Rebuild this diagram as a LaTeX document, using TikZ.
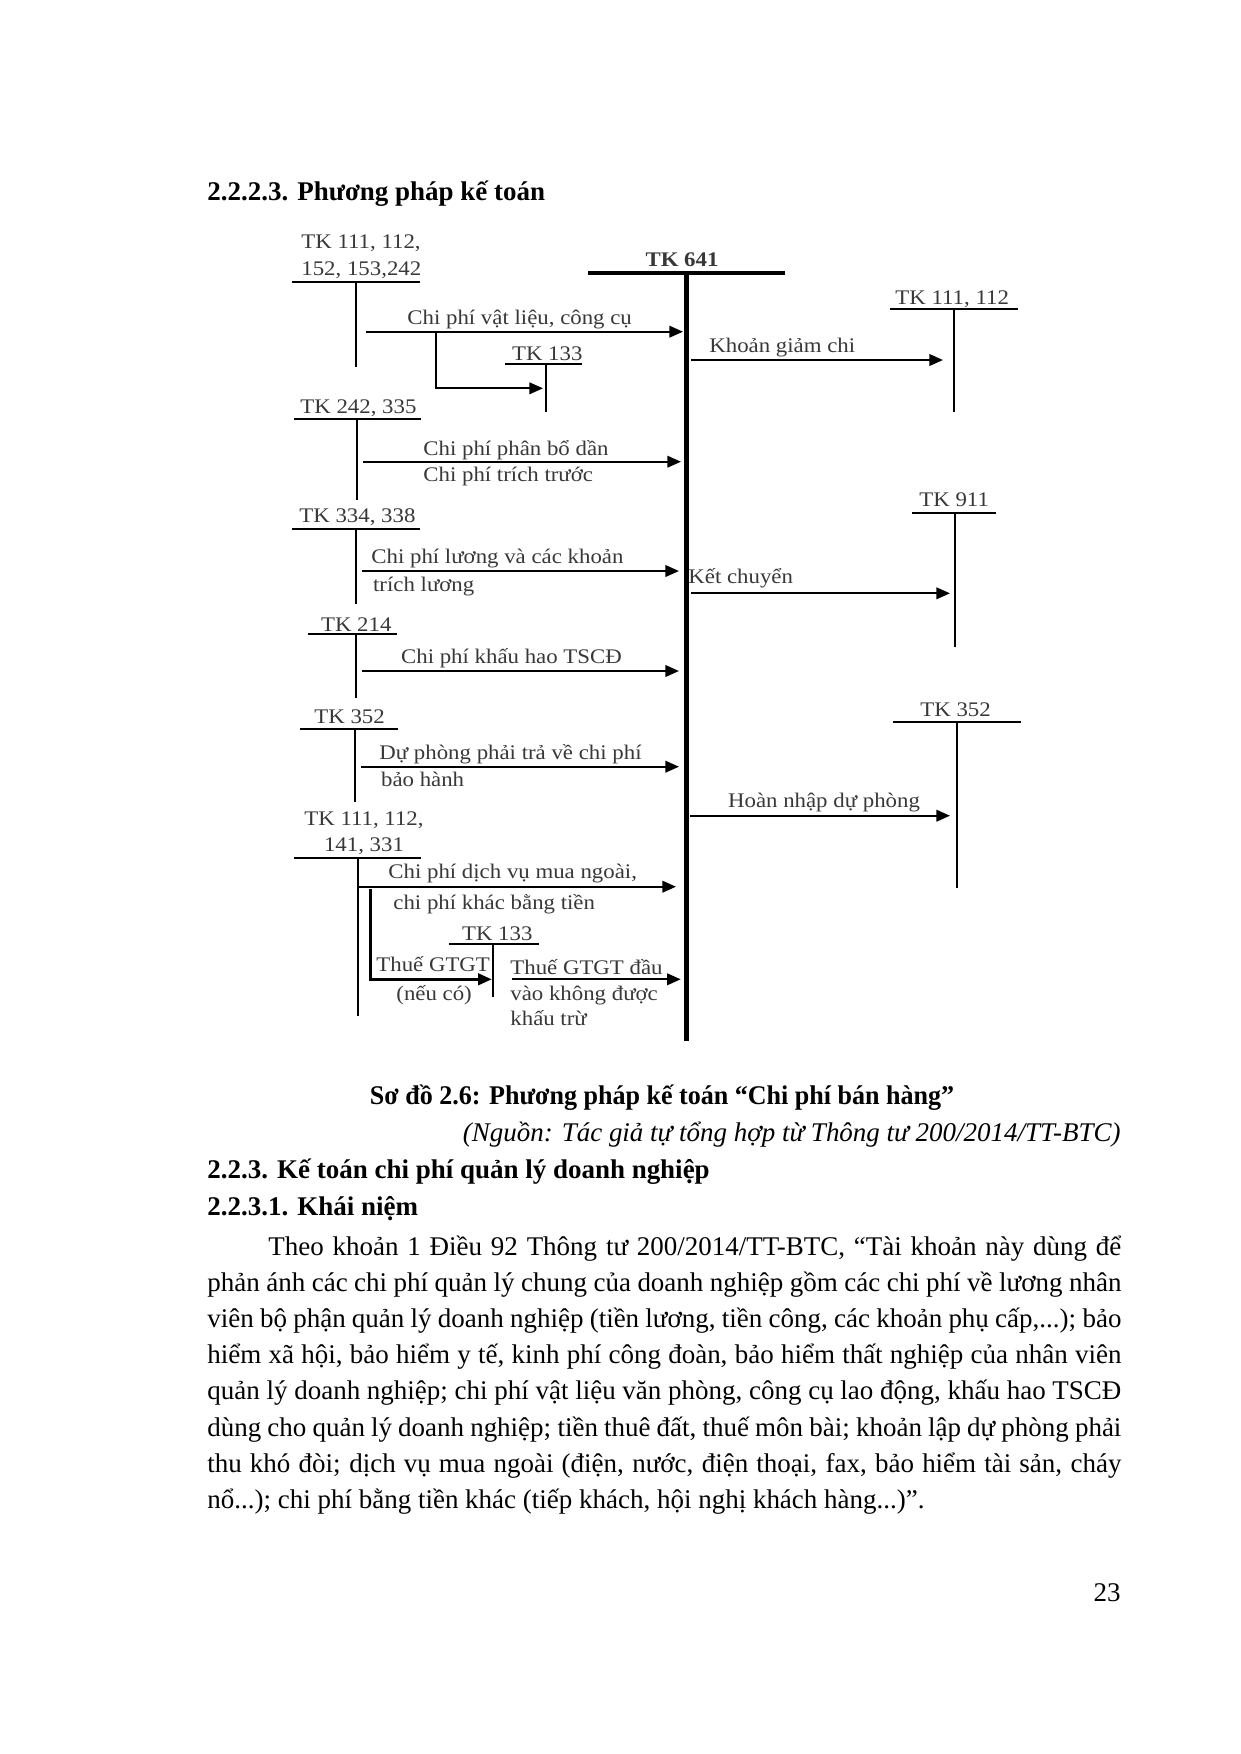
\documentclass[tikz,border=0pt]{standalone}
\usepackage{fontspec}
\usepackage{graphicx}
\setmainfont{Liberation Serif}
\newfontfamily\dfont[FakeStretch=1.1]{Liberation Serif}
\usetikzlibrary{arrows.meta}
\definecolor{dtext}{gray}{0.22}
\tikzset{
  lbl/.style={font=\dfont\fontsize{10}{12}\selectfont, text=dtext, inner sep=0pt, anchor=base west},
  tline/.style={line width=1bp},
  arr/.style={line width=1bp, -{Triangle[length=6.5bp,width=5.5bp]}},
  thickarr/.style={line width=1.3bp, -{Triangle[length=6.5bp,width=5.5bp]}},
  bodytxt/.style={font=\fontsize{13}{16}\selectfont, inner sep=0pt, anchor=base west},
  headtxt/.style={font=\fontsize{13}{16}\selectfont\bfseries, inner sep=0pt, anchor=base west},
}
\begin{document}
\begin{tikzpicture}[x=0.48bp, y=-0.48bp]
\useasboundingbox (0,0) rectangle (1240,1754);

% ---- title
\node[headtxt] (title) at (207,200) {2.2.2.3. Phương pháp kế toán};

% ---- TK 641
\node[lbl, font=\dfont\fontsize{10}{12}\selectfont\bfseries, anchor=base] (t641) at (682,266.5) {TK 641};
\coordinate (h641l) at (588,273.3);
\coordinate (h641r) at (785,273.3);
\coordinate (v641t) at (686,272.5);
\coordinate (v641b) at (686,1041);
\draw[line width=1.8bp] (h641l) -- (h641r);
\draw[line width=2.4bp] (v641t) -- (v641b);

% ---- group 1: TK 111,112,152,153,242
\node[lbl] (a1a) at (301,248) {TK 111, 112,};
\node[lbl] (a1b) at (301,275) {152, 153,242};
\coordinate (a1ul) at (292,281.7); \coordinate (a1ur) at (420,281.7);
\coordinate (a1vt) at (356,281.7); \coordinate (a1vb) at (356,367);
\draw[tline] (a1ul) -- (a1ur);
\draw[tline] (a1vt) -- (a1vb);
\coordinate (r1s) at (366,331.7); \coordinate (r1e) at (683,331.7);
\draw[arr] (r1s) -- (r1e);
\node[lbl] (r1l) at (407,324) {Chi phí vật liệu, công cụ};
\coordinate (b1s) at (436,331.7); \coordinate (b1e) at (543,388.3);
\draw[arr] (b1s) |- (b1e);
\node[lbl] (t133a) at (511.7,360) {TK 133};
\coordinate (t133aul) at (505,364); \coordinate (t133aur) at (582,364);
\coordinate (t133avt) at (545.7,364); \coordinate (t133avb) at (545.7,412);
\draw[tline] (t133aul) -- (t133aur);
\draw[tline] (t133avt) -- (t133avb);

% ---- group 2: TK 242, 335
\node[lbl] (a2) at (300,413.3) {TK 242, 335};
\coordinate (a2ul) at (294,419); \coordinate (a2ur) at (421,419);
\coordinate (a2vt) at (357.3,419); \coordinate (a2vb) at (357.3,500);
\draw[tline] (a2ul) -- (a2ur);
\draw[tline] (a2vt) -- (a2vb);
\coordinate (r2s) at (363,461.7); \coordinate (r2e) at (681,461.7);
\draw[arr] (r2s) -- (r2e);
\node[lbl] (r2l1) at (423,455) {Chi phí phân bổ dần};
\node[lbl] (r2l2) at (423,481.7) {Chi phí trích trước};

% ---- group 3: TK 334, 338
\node[lbl] (a3) at (299,522.7) {TK 334, 338};
\coordinate (a3ul) at (292,529.3); \coordinate (a3ur) at (420,529.3);
\coordinate (a3vt) at (356,529.3); \coordinate (a3vb) at (356,604.3);
\draw[tline] (a3ul) -- (a3ur);
\draw[tline] (a3vt) -- (a3vb);
\coordinate (r3s) at (362,571); \coordinate (r3e) at (679,571);
\draw[arr] (r3s) -- (r3e);
\node[lbl] (r3l1) at (371,563.3) {Chi phí lương và các khoản};
\node[lbl] (r3l2) at (372.7,591) {trích lương};

% ---- group 4: TK 214
\node[lbl] (a4) at (320.7,631.7) {TK 214};
\coordinate (a4ul) at (308,634); \coordinate (a4ur) at (397,634);
\coordinate (a4vt) at (356,634); \coordinate (a4vb) at (356,698);
\draw[tline] (a4ul) -- (a4ur);
\draw[tline] (a4vt) -- (a4vb);
\coordinate (r4s) at (362,671); \coordinate (r4e) at (679,671);
\draw[arr] (r4s) -- (r4e);
\node[lbl] (r4l) at (400.7,663.3) {Chi phí khấu hao TSCĐ};

% ---- group 5: TK 352
\node[lbl] (a5) at (314,723.3) {TK 352};
\coordinate (a5ul) at (300,729.3); \coordinate (a5ur) at (398,729.3);
\coordinate (a5vt) at (355,729.3); \coordinate (a5vb) at (355,802);
\draw[tline] (a5ul) -- (a5ur);
\draw[tline] (a5vt) -- (a5vb);
\coordinate (r5s) at (361,766.7); \coordinate (r5e) at (679,766.7);
\draw[arr] (r5s) -- (r5e);
\node[lbl] (r5l1) at (379,759.3) {Dự phòng phải trả về chi phí};
\node[lbl] (r5l2) at (380.7,786.7) {bảo hành};

% ---- group 6: TK 111,112,141,331
\node[lbl, anchor=base] (a6a) at (364,825) {TK 111, 112,};
\node[lbl, anchor=base] (a6b) at (364,851.7) {141, 331};
\coordinate (a6ul) at (294,857.7); \coordinate (a6ur) at (421,857.7);
\coordinate (a6vt) at (357.7,857.7); \coordinate (a6vb) at (357.7,1015.7);
\draw[tline] (a6ul) -- (a6ur);
\draw[tline] (a6vt) -- (a6vb);
\coordinate (r6s) at (357.7,886.7); \coordinate (r6e) at (676,886.7);
\draw[arr] (r6s) -- (r6e);
\node[lbl] (r6l1) at (388,878.3) {Chi phí dịch vụ mua ngoài,};
\node[lbl] (r6l2) at (393,909) {chi phí khác bằng tiền};
\coordinate (b6s) at (370.7,889); \coordinate (b6e) at (491.7,979.3);
\draw[thickarr] (b6s) |- (b6e);
\node[lbl] (b6l1) at (376,971.7) {Thuế GTGT};
\node[lbl] (b6l2) at (396,1000.7) {(nếu có)};
\node[lbl] (t133b) at (461.7,940) {TK 133};
\coordinate (t133bul) at (449,944); \coordinate (t133bur) at (539,944);
\coordinate (t133bvt) at (493.3,944); \coordinate (t133bvb) at (493.3,997.3);
\draw[tline] (t133bul) -- (t133bur);
\draw[tline] (t133bvt) -- (t133bvb);
\coordinate (r7s) at (511.7,979.3); \coordinate (r7e) at (680.7,979.3);
\draw[arr] (r7s) -- (r7e);
\node[lbl] (r7l1) at (510,974.3) {Thuế GTGT đầu};
\node[lbl] (r7l2) at (510,1000) {vào không được};
\node[lbl] (r7l3) at (510,1025) {khấu trừ};

% ---- right 1: TK 111, 112
\node[lbl] (c1) at (895,304) {TK 111, 112};
\coordinate (c1ul) at (890,309.3); \coordinate (c1ur) at (1018,309.3);
\coordinate (c1vt) at (954,309.3); \coordinate (c1vb) at (954,412);
\draw[tline] (c1ul) -- (c1ur);
\draw[tline] (c1vt) -- (c1vb);
\coordinate (o1s) at (691,360); \coordinate (o1e) at (943,360);
\draw[arr] (o1s) -- (o1e);
\node[lbl] (o1l) at (709,352.7) {Khoản giảm chi};

% ---- right 2: TK 911
\node[lbl] (c2) at (919,506.7) {TK 911};
\coordinate (c2ul) at (912,512.7); \coordinate (c2ur) at (996,512.7);
\coordinate (c2vt) at (954.7,512.7); \coordinate (c2vb) at (954.7,647);
\draw[tline] (c2ul) -- (c2ur);
\draw[tline] (c2vt) -- (c2vb);
\coordinate (o2s) at (691,593.3); \coordinate (o2e) at (950,593.3);
\draw[arr] (o2s) -- (o2e);
\node[lbl] (o2l) at (688,583.3) {Kết chuyển};

% ---- right 3: TK 352
\node[lbl] (c3) at (920,716.7) {TK 352};
\coordinate (c3ul) at (893,721.7); \coordinate (c3ur) at (1021,721.7);
\coordinate (c3vt) at (956.7,721.7); \coordinate (c3vb) at (956.7,888);
\draw[tline] (c3ul) -- (c3ur);
\draw[tline] (c3vt) -- (c3vb);
\coordinate (o3s) at (690,815.7); \coordinate (o3e) at (950,815.7);
\draw[arr] (o3s) -- (o3e);
\node[lbl] (o3l) at (727.7,807.3) {Hoàn nhập dự phòng};

% ---- caption and text
\node[headtxt, anchor=base] (cap) at (662,1104) {\scalebox{0.965}[1]{Sơ đồ 2.6: Phương pháp kế toán “Chi phí bán hàng”}};
\node[bodytxt, anchor=base east, font=\fontsize{13}{16}\selectfont\itshape] (src) at (1121,1141) {(Nguồn: Tác giả tự tổng hợp từ Thông tư 200/2014/TT-BTC)};
\node[headtxt] (h1) at (207,1178) {2.2.3. Kế toán chi phí quản lý doanh nghiệp};
\node[headtxt] (h2) at (207,1215) {2.2.3.1. Khái niệm};

\node[bodytxt] (p1) at (268,1255) {\makebox[409.4bp][s]{Theo khoản 1 Điều 92 Thông tư 200/2014/TT-BTC, “Tài khoản này dùng để}};
\node[bodytxt] (p2) at (207,1291.2) {\makebox[438.7bp][s]{phản ánh các chi phí quản lý chung của doanh nghiệp gồm các chi phí về lương nhân}};
\node[bodytxt] (p3) at (207,1327.4) {\makebox[438.7bp][s]{viên bộ phận quản lý doanh nghiệp (tiền lương, tiền công, các khoản phụ cấp,...); bảo}};
\node[bodytxt] (p4) at (207,1363.6) {\makebox[438.7bp][s]{hiểm xã hội, bảo hiểm y tế, kinh phí công đoàn, bảo hiểm thất nghiệp của nhân viên}};
\node[bodytxt] (p5) at (207,1399.8) {\makebox[438.7bp][s]{quản lý doanh nghiệp; chi phí vật liệu văn phòng, công cụ lao động, khấu hao TSCĐ}};
\node[bodytxt] (p6) at (207,1436) {\makebox[438.7bp][s]{dùng cho quản lý doanh nghiệp; tiền thuê đất, thuế môn bài; khoản lập dự phòng phải}};
\node[bodytxt] (p7) at (207,1472.2) {\makebox[438.7bp][s]{thu khó đòi; dịch vụ mua ngoài (điện, nước, điện thoại, fax, bảo hiểm tài sản, cháy}};
\node[bodytxt] (p8) at (207,1508.4) {nổ...); chi phí bằng tiền khác (tiếp khách, hội nghị khách hàng...)”.};

\node[bodytxt, anchor=base east] (pg) at (1121,1601.7) {23};
\end{tikzpicture}
\end{document}
